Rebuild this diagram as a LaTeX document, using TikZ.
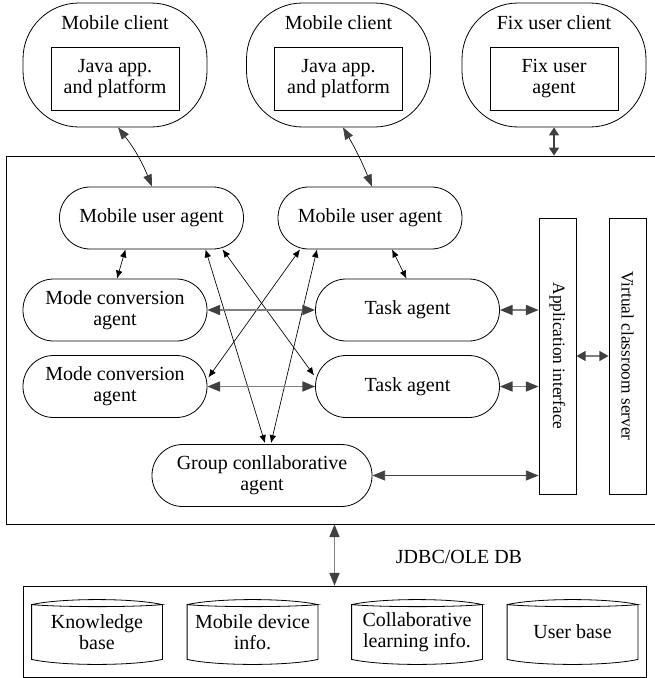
\documentclass[tikz,border=0pt]{standalone}
\usepackage{fontspec}
\setmainfont{Liberation Serif}
\usepackage{graphicx}
\usetikzlibrary{arrows.meta,calc}
\definecolor{HeadGray}{HTML}{404040}
\definecolor{LineGray}{HTML}{808080}

\begin{document}
\begin{tikzpicture}[x=0.75pt,y=-0.75pt,line width=0.6pt,
          every node/.style={font=\fontsize{15}{16}\selectfont},
          client/.style={draw,rounded corners=42pt,minimum width=138pt,
                         minimum height=93pt},
          appbox/.style={draw,minimum width=96pt,minimum height=47.25pt,
                         align=center},
          agent/.style={draw,rounded corners=23pt,minimum width=138pt,
                        minimum height=46.5pt,align=center},
          iface/.style={draw,minimum width=27.75pt,minimum height=207pt,
                        inner sep=0pt,font=\fontsize{13}{14}\selectfont},
          dbase/.style={minimum width=97.5pt,minimum height=40.5pt,
                        inner sep=1pt,align=center},
          thinar/.style={{Latex[length=6pt,width=5pt]}-{Latex[length=6pt,width=5pt]},
                         line width=0.5pt},
          cliar/.style={{Triangle[length=9pt,width=6.5pt,color=HeadGray]}-{Triangle[length=9pt,width=6.5pt,color=HeadGray]},
                        line width=0.5pt},
          gar/.style={{Triangle[length=9.5pt,width=7.5pt,color=HeadGray]}-{Triangle[length=9.5pt,width=7.5pt,color=HeadGray]},
                      draw=LineGray,line width=1.2pt},
          fixar/.style={{Triangle[length=6pt,width=7.5pt,color=HeadGray]}-{Triangle[length=6pt,width=7.5pt,color=HeadGray]},
                        draw=HeadGray,line width=1pt}]
  \useasboundingbox (0,0) rectangle (655,678);

  % clients
  \node[client] (mc1) at (115,65) {};
  \node (mc1t) at (115,23) {Mobile client};
  \node[appbox] (java1) at (115,78.5) {Java app.\\and platform};
  \node[client] (mc2) at (338.5,65) {};
  \node (mc2t) at (338.5,23) {Mobile client};
  \node[appbox] (java2) at (338.5,78.5) {Java app.\\and platform};
  \node[client] (fc) at (554,65) {};
  \node (fct) at (554,23) {Fix user client};
  \node[appbox] (fua) at (554,78.5) {Fix user\\agent};

  % agent platform
  \node[draw,minimum width=488pt,minimum height=276pt] (mas) at (331.5,340) {};
  \node[agent] (mua1) at (151.5,218) {Mobile user agent};
  \node[agent] (mua2) at (370,218) {Mobile user agent};
  \node[agent] (mca1) at (115,310) {Mode conversion\\agent};
  \node[agent] (mca2) at (115,386.5) {Mode conversion\\agent};
  \node[agent] (ta1) at (407.5,310) {Task agent};
  \node[agent] (ta2) at (407.5,386.5) {Task agent};
  \node[agent,minimum width=165pt] (gca) at (262,475.5) {Group conllaborative\\agent};
  \node[iface] (ai) at (557.5,356) {\rotatebox{-90}{Application interface}};
  \node[iface] (vcs) at (627.5,356) {\rotatebox{-90}{Virtual classroom server}};

  % databases
  \node[draw,minimum width=467.25pt,minimum height=68.25pt] (db) at (334.5,631.5) {};
  \node[dbase] (kb) at (97,632) {Knowledge\\base};
  \node[dbase] (md) at (252.5,632) {Mobile device\\info.};
  \node[dbase] (cl) at (417,632) {Collaborative\\learning info.};
  \node[dbase] (ub) at (572.5,632) {User base};
  \foreach \n in {kb,md,cl,ub}{
    \draw (\n.north west) .. controls +(30,-6.7) and +(-30,-6.7) .. (\n.north east)
          .. controls +(-30,2.7) and +(30,2.7) .. (\n.north west) -- (\n.south west)
          .. controls +(30,6.7) and +(-30,6.7) .. (\n.south east) -- (\n.north east);
  }
  \node (jdbc) at (459,557) {JDBC/OLE DB};

  % connectors
  \draw[cliar] ($(mc1.south)+(3,0)$) to[bend left=8] ($(mua1.north)+(0.5,0)$);
  \draw[cliar] ($(mc2.south)+(4.5,0)$) to[bend left=4] ($(mua2.north)+(2,0)$);
  \draw[fixar] (fc.south) -- (fc.south |- mas.north);
  \draw[thinar] ($(mua1.south)+(-26,0)$) -- ($(mca1.north)+(2,0)$);
  \draw[thinar] ($(mua2.south)+(22,0)$) -- ($(ta1.north)+(-1,0)$);
  \draw[thinar] ($(mua1.south)+(54,0)$) -- ($(gca.north)+(3,-1)$);
  \draw[thinar] ($(mua1.south)+(71,0)$) -- ($(ta2.west)+(-1,-11)$);
  \draw[thinar] ($(mua2.south)+(-70,0)$) -- ($(mca2.east)+(1,-9)$);
  \draw[thinar] ($(mua2.south)+(-53,0)$) -- ($(gca.north)+(9,-1)$);
  \draw[gar] (mca1.east) -- (ta1.west);
  \draw[gar] (mca2.east) -- (ta2.west);
  \draw[gar] (ta1.east) -- (ta1.east -| ai.west);
  \draw[gar] (ta2.east) -- (ta2.east -| ai.west);
  \draw[gar,draw=HeadGray,line width=0.6pt] (gca.east) -- (gca.east -| ai.west);
  \draw[gar,{Triangle[length=7pt,width=7.5pt,color=HeadGray]}-{Triangle[length=7pt,width=7.5pt,color=HeadGray]}] (ai) -- (vcs);
  \draw[gar] (db.north |- mas.south) -- (db.north);
\end{tikzpicture}
\end{document}
